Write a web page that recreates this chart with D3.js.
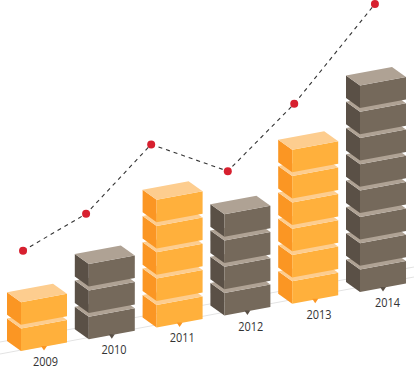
<!DOCTYPE html>
<html>
<head>
<meta charset="utf-8">
<script src="https://cdn.jsdelivr.net/npm/d3@7"></script>
<style>
  html, body { margin: 0; padding: 0; background: #fff; }
  svg { display: block; }
</style>
</head>
<body>
<div id="chart"></div>
<script>
const years = ["2009", "2010", "2011", "2012", "2013", "2014"];
const blockCounts = [2, 3, 5, 4, 6, 8];
// the line's points do not sit exactly over the bars, so they get their own x values
const linePositions = [2009.03, 2009.96, 2010.92, 2012.05, 2013.03, 2014.22];
const lineValues = [31.8, 42, 61.2, 53.8, 72.4, 100];

const ORANGE = { front: "#ffb03c", left: "#fb9623", top: "#fdcd8f" };
const BROWN  = { front: "#75695b", left: "#5a5046", top: "#afa294" };

const width = 414, height = 367;

const svg = d3.select("#chart").append("svg")
  .attr("width", width)
  .attr("height", height);

// ---------- SCALES ----------
const x = d3.scalePoint().domain(years).range([21, 360]);
const labelX = d3.scalePoint().domain(years).range([45.5, 387.5]);
const yearX = d3.scaleLinear().domain([2009, 2014]).range([21, 360]);
const lineY = d3.scaleLinear().domain([0, 100]).range([365.8, 4]);
const baseY = d3.scaleLinear().domain([0, years.length - 1]).range([351, 292]);
const stackH = d3.scaleLinear().domain([0, 8]).range([0, 210.4]);

// ---------- FLOOR LINES ----------
const floor = [[342, 267], [354, 277]];
svg.selectAll("line.floor")
  .data(floor)
  .enter()
  .append("line")
  .attr("class", "floor")
  .attr("x1", 0)
  .attr("x2", width)
  .attr("y1", d => d[0])
  .attr("y2", d => d[1])
  .attr("stroke", "#e3e3e3")
  .attr("stroke-width", 1);

// ---------- BLOCKS ----------
const dxFront = 46, dyFront = -8.5, dxLeft = -14, dyLeft = -10;
const faceH = 22.5;

function drawBlock(g, fx, by, colors) {
  const ty = by - faceH;
  const poly = (pts, fill) => g.append("polygon")
    .attr("points", pts.map(p => p.join(",")).join(" "))
    .attr("fill", fill);

  poly([[fx, by], [fx + dxLeft, by + dyLeft], [fx + dxLeft, ty + dyLeft], [fx, ty]], colors.left);
  poly([[fx, by], [fx + dxFront, by + dyFront], [fx + dxFront, ty + dyFront], [fx, ty]], colors.front);
  poly([
    [fx, ty],
    [fx + dxFront, ty + dyFront],
    [fx + dxFront + dxLeft, ty + dyFront + dyLeft],
    [fx + dxLeft, ty + dyLeft]
  ], colors.top);
}

years.forEach((year, i) => {
  const colors = i % 2 === 0 ? ORANGE : BROWN;
  const fx = x(year);
  const base = baseY(i);
  const g = svg.append("g").attr("class", "bar");

  d3.range(blockCounts[i]).forEach(n => {
    drawBlock(g, fx, base - stackH(n), colors);
  });

  // small pointer under the bar
  const px = fx + 23, py = base - 5;
  g.append("path")
    .attr("d", `M${px - 3},${py} L${px + 3},${py} L${px},${py + 4.5} Z`)
    .attr("fill", colors.left);

  svg.append("text")
    .attr("x", labelX(year))
    .attr("y", base + 15)
    .attr("text-anchor", "middle")
    .attr("font-family", "'Open Sans', sans-serif")
    .attr("font-size", 13)
    .attr("textLength", 25)
    .attr("lengthAdjust", "spacingAndGlyphs")
    .attr("fill", "#333")
    .text(year);
});

// ---------- LINE ----------
const line = d3.line()
  .x((d, i) => yearX(linePositions[i]))
  .y(d => lineY(d));

svg.append("path")
  .datum(lineValues)
  .attr("d", line)
  .attr("fill", "none")
  .attr("stroke", "#333")
  .attr("stroke-width", 1.1)
  .attr("stroke-dasharray", "4,4");

svg.selectAll("circle.point")
  .data(lineValues)
  .enter()
  .append("circle")
  .attr("class", "point")
  .attr("cx", (d, i) => yearX(linePositions[i]))
  .attr("cy", d => lineY(d))
  .attr("r", 4)
  .attr("fill", "#d7202f");
</script>
</body>
</html>
